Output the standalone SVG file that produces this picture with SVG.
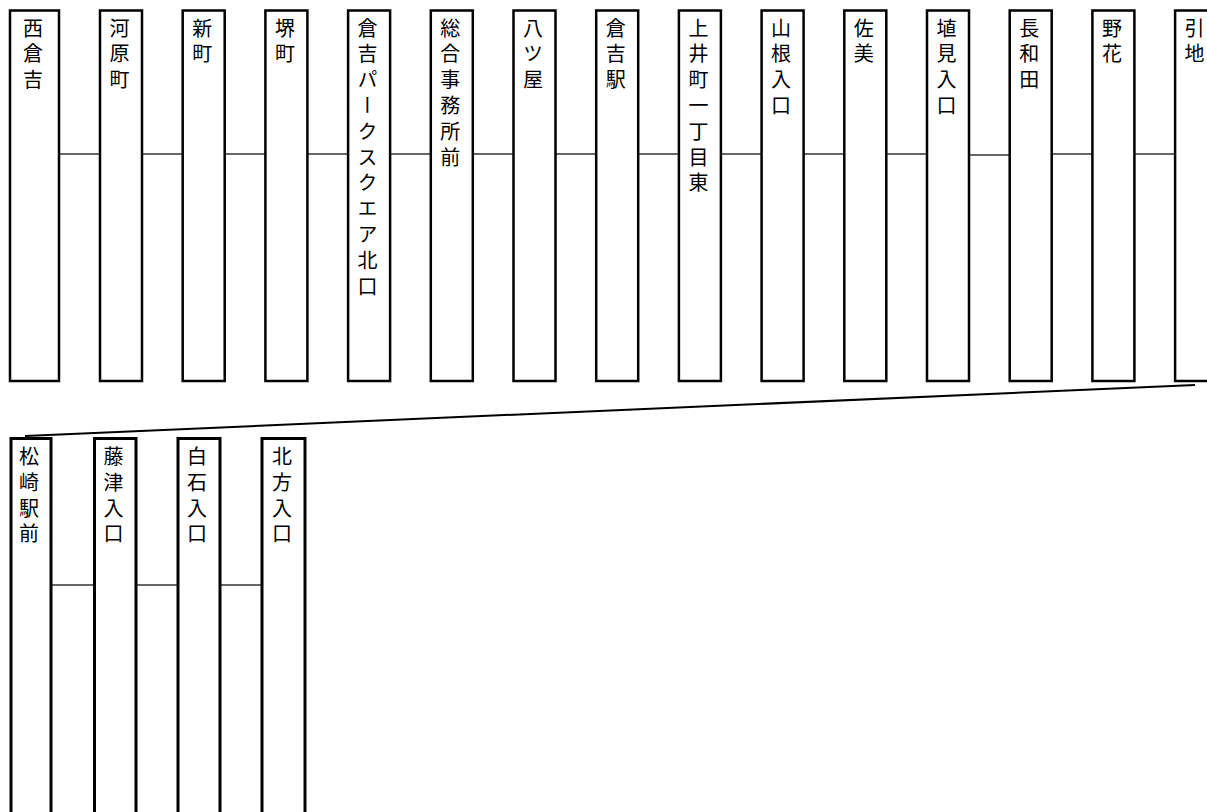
<svg xmlns="http://www.w3.org/2000/svg" width="1207" height="812" viewBox="0 0 1207 812">
<style>
.box{fill:#fff;stroke:#000;stroke-width:2.5}
.box2{fill:#fff;stroke:#000;stroke-width:3}
.lbl{font-family:"Noto Sans CJK JP","Noto Sans CJK SC",sans-serif;font-size:20px;font-weight:400;fill:#000;writing-mode:vertical-rl;letter-spacing:5.8px}
.conn line{stroke:#333;stroke-width:1.3}
</style>
<rect width="1207" height="812" fill="#fff"/>
<g id="connectors" class="conn">
<line x1="59" y1="154" x2="100" y2="154"/>
<line x1="142" y1="154" x2="182.7" y2="154"/>
<line x1="224.7" y1="154" x2="265.4" y2="154"/>
<line x1="307.4" y1="154" x2="348.1" y2="154"/>
<line x1="390.1" y1="154" x2="430.8" y2="154"/>
<line x1="472.8" y1="154" x2="513.5" y2="154"/>
<line x1="555.5" y1="154" x2="596.2" y2="154"/>
<line x1="638.2" y1="154" x2="678.9" y2="154"/>
<line x1="720.9" y1="154" x2="761.6" y2="154"/>
<line x1="803.6" y1="154" x2="844.3" y2="154"/>
<line x1="886.3" y1="154" x2="927" y2="154"/>
<line x1="969" y1="155" x2="1009.7" y2="155"/>
<line x1="1051.7" y1="154" x2="1092.4" y2="154"/>
<line x1="1134.4" y1="154" x2="1175.1" y2="154"/>
<line x1="1195" y1="385" x2="25" y2="436" style="stroke:#000;stroke-width:2"/>
<line x1="51" y1="585" x2="94.5" y2="585"/>
<line x1="136" y1="585" x2="178" y2="585"/>
<line x1="220" y1="585" x2="262" y2="585"/>
</g>
<g id="n1"><rect class="box" x="10" y="10.5" width="49" height="370.5"/><text class="lbl" x="33" y="18">西倉吉</text></g>
<g id="n2"><rect class="box" x="100" y="10.5" width="42" height="370.5"/><text class="lbl" x="119.5" y="18">河原町</text></g>
<g id="n3"><rect class="box" x="182.7" y="10.5" width="42" height="370.5"/><text class="lbl" x="202.2" y="18">新町</text></g>
<g id="n4"><rect class="box" x="265.4" y="10.5" width="42" height="370.5"/><text class="lbl" x="284.9" y="18">堺町</text></g>
<g id="n5"><rect class="box" x="348.1" y="10.5" width="42" height="370.5"/><text class="lbl" x="367.6" y="18">倉吉パークスクエア北口</text></g>
<g id="n6"><rect class="box" x="430.8" y="10.5" width="42" height="370.5"/><text class="lbl" x="450.3" y="18">総合事務所前</text></g>
<g id="n7"><rect class="box" x="513.5" y="10.5" width="42" height="370.5"/><text class="lbl" x="533" y="18">八ツ屋</text></g>
<g id="n8"><rect class="box" x="596.2" y="10.5" width="42" height="370.5"/><text class="lbl" x="615.7" y="18">倉吉駅</text></g>
<g id="n9"><rect class="box" x="678.9" y="10.5" width="42" height="370.5"/><text class="lbl" x="698.4" y="18">上井町一丁目東</text></g>
<g id="n10"><rect class="box" x="761.6" y="10.5" width="42" height="370.5"/><text class="lbl" x="781.1" y="18">山根入口</text></g>
<g id="n11"><rect class="box" x="844.3" y="10.5" width="42" height="370.5"/><text class="lbl" x="863.8" y="18">佐美</text></g>
<g id="n12"><rect class="box" x="927" y="10.5" width="42" height="370.5"/><text class="lbl" x="946.5" y="18">埴見入口</text></g>
<g id="n13"><rect class="box" x="1009.7" y="10.5" width="42" height="370.5"/><text class="lbl" x="1029.2" y="18">長和田</text></g>
<g id="n14"><rect class="box" x="1092.4" y="10.5" width="42" height="370.5"/><text class="lbl" x="1111.9" y="18">野花</text></g>
<g id="n15"><rect class="box" x="1175.1" y="10.5" width="42" height="370.5"/><text class="lbl" x="1194.6" y="18">引地</text></g>
<g id="n16"><rect class="box2" x="11" y="438.5" width="40" height="400"/><text class="lbl" x="29" y="446.5">松崎駅前</text></g>
<g id="n17"><rect class="box2" x="94.5" y="438.5" width="41.5" height="400"/><text class="lbl" x="113.5" y="446.5">藤津入口</text></g>
<g id="n18"><rect class="box2" x="178" y="438.5" width="42" height="400"/><text class="lbl" x="197" y="446.5">白石入口</text></g>
<g id="n19"><rect class="box2" x="262" y="438.5" width="43" height="400"/><text class="lbl" x="282" y="446.5">北方入口</text></g>
</svg>
